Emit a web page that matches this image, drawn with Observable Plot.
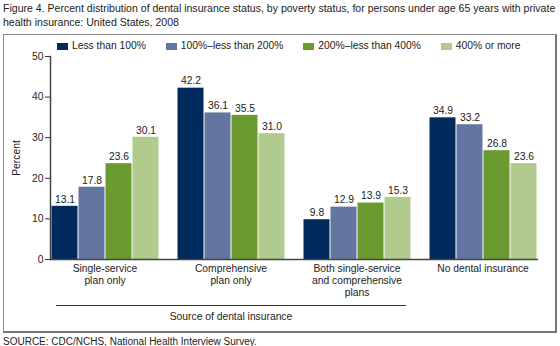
<!DOCTYPE html>
<html><head><meta charset="utf-8">
<script src="https://cdn.jsdelivr.net/npm/d3@7"></script>
<script src="https://cdn.jsdelivr.net/npm/@observablehq/plot@0.6"></script>
<style>
body{margin:0;background:#fff;font-family:"Liberation Sans",Arial,sans-serif;color:#222;}
#wrap{position:relative;width:560px;height:346px;overflow:hidden;background:#fff}
#title{position:absolute;left:3px;top:1px;font-size:10.55px;line-height:14px;white-space:nowrap;}
#box{position:absolute;left:3px;top:34px;width:551px;height:296px;border:1px solid #8c8c8c;border-right:2px solid #777;border-bottom:2px solid #777;}
#chart{position:absolute;left:0;top:34px;}
#legend{position:absolute;left:57px;top:39px;display:flex;font-size:10.3px;line-height:14px;}
.item{display:flex;align-items:center;margin-right:20px;white-space:nowrap;}
.sw{width:11px;height:7px;margin-right:4px;}
#rule{position:absolute;left:56px;top:305px;width:350px;height:1px;background:#333;}
#xtitle{position:absolute;left:56px;top:310px;width:350px;text-align:center;font-size:10.3px;line-height:13px;}
#source{position:absolute;left:3px;top:336px;font-size:10px;line-height:11px;white-space:nowrap;}
</style>
</head><body>
<div id="wrap">
  <div id="title"></div>
  <div id="box"></div>
  <div id="chart"></div>
  <div id="legend"></div>
  <div id="rule"></div>
  <div id="xtitle"></div>
  <div id="source"></div>
</div>
<script>
const titleLines = ["Figure 4. Percent distribution of dental insurance status, by poverty status, for persons under age 65 years with private", "health insurance: United States, 2008"];
const sourceText = "SOURCE: CDC/NCHS, National Health Interview Survey.";
const xAxisTitle = "Source of dental insurance";
const yAxisTitle = "Percent";
const categories = ["Single-service\nplan only", "Comprehensive\nplan only", "Both single-service\nand comprehensive\nplans", "No dental insurance"];
const series = ["Less than 100%", "100%\u2013less than 200%", "200%\u2013less than 400%", "400% or more"];
const lessThan100 = [13.1, 42.2, 9.8, 34.9];
const from100to200 = [17.8, 36.1, 12.9, 33.2];
const from200to400 = [23.6, 35.5, 13.9, 26.8];
const over400 = [30.1, 31.0, 15.3, 23.6];
const yTicks = [0, 10, 20, 30, 40, 50];
const colors = ["#002b5c", "#6276a1", "#6b9b30", "#b1ca8e"];

const data = [];
[lessThan100, from100to200, from200to400, over400].forEach((vals, si) =>
  vals.forEach((v, ci) => data.push({category: categories[ci], series: series[si], value: v})));

document.getElementById("title").innerHTML = titleLines.join("<br>");
document.getElementById("source").textContent = sourceText;
document.getElementById("xtitle").textContent = xAxisTitle;
const lg = document.getElementById("legend");
series.forEach((s, i) => {
  const it = document.createElement("div"); it.className = "item";
  const sw = document.createElement("div"); sw.className = "sw"; sw.style.background = colors[i];
  const tx = document.createElement("span"); tx.textContent = s;
  it.appendChild(sw); it.appendChild(tx); lg.appendChild(it);
});

const chart = Plot.plot({
  width: 560, height: 298,
  marginLeft: 40, marginRight: 13, marginTop: 22, marginBottom: 73,
  style: {fontFamily: "Liberation Sans, Arial, sans-serif", fontSize: "10.3px", color: "#222", background: "transparent"},
  fx: {domain: categories, paddingInner: 0.138, paddingOuter: 0.073, label: null, axis: null},
  x: {domain: series, padding: 0, axis: null},
  y: {domain: [0, 50], axis: null},
  color: {domain: series, range: colors},
  marks: [
    Plot.barY(data, {fx: "category", x: "series", y: "value", fill: "series", insetLeft: 0.5, insetRight: 0.5}),
    Plot.text(data, {fx: "category", x: "series", y: "value", text: d => d.value.toFixed(1), dy: -7, fill: "#222", fontSize: 10.3}),
    Plot.axisFx({anchor: "bottom", tickSize: 0, tickPadding: 4, label: null, lineHeight: 1.15, fontSize: 10.3, textAnchor: "middle"}),
    Plot.axisY(yTicks, {anchor: "left", tickSize: 5, tickPadding: 2, label: yAxisTitle, labelAnchor: "center", labelOffset: 38, labelArrow: "none", stroke: "#333", fontSize: 10.3}),
    Plot.frame({facet: "super", anchor: "bottom", stroke: "#444", strokeWidth: 1.5}),
    Plot.frame({facet: "super", anchor: "left", stroke: "#444", strokeWidth: 1.5})
  ]
});
document.getElementById("chart").appendChild(chart);
</script>
</body></html>
